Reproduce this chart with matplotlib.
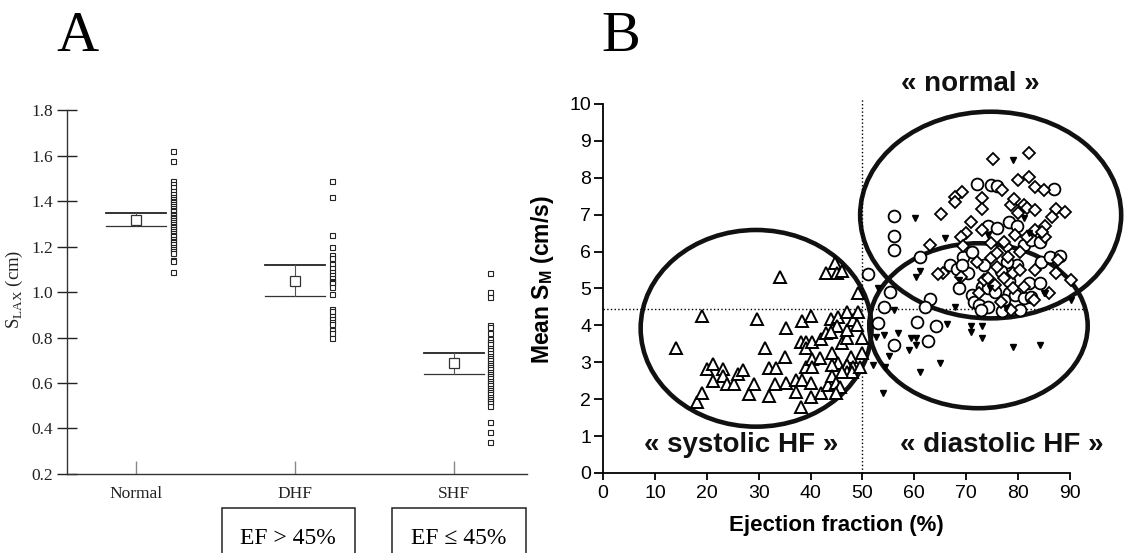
import matplotlib
matplotlib.use('Agg')
import matplotlib.pyplot as plt
from matplotlib.patches import Ellipse, Rectangle

plt.rcParams['mathtext.fontset'] = 'custom'
plt.rcParams['mathtext.rm'] = 'Liberation Serif'
plt.rcParams['mathtext.bf'] = 'Liberation Sans:bold'

SERIF = ['Liberation Serif', 'DejaVu Serif']
SANS = ['Liberation Sans', 'DejaVu Sans']

# ---- panel A data ----
groups = ['Normal', 'DHF', 'SHF']
group_mean = [1.316, 1.05, 0.686]
group_hi = [1.346, 1.119, 0.733]
group_lo = [1.29, 0.982, 0.638]

normal_vals = [1.62, 1.575, 1.49, 1.475, 1.46, 1.445, 1.43, 1.42, 1.41, 1.40, 1.395,
               1.385, 1.38, 1.37, 1.36, 1.355, 1.345, 1.34, 1.33, 1.325, 1.315, 1.31,
               1.30, 1.29, 1.285, 1.275, 1.27, 1.26, 1.25, 1.245, 1.235, 1.225, 1.22,
               1.21, 1.20, 1.19, 1.18, 1.17, 1.14, 1.135, 1.09]
dhf_vals = [1.49, 1.42, 1.25, 1.20, 1.165, 1.15, 1.125, 1.105, 1.09, 1.075, 1.06, 1.05,
            1.045, 1.04, 1.02, 0.99, 0.925, 0.915, 0.895, 0.88, 0.87, 0.86, 0.835,
            0.82, 0.80]
shf_vals = [1.085, 1.00, 0.98, 0.855, 0.845, 0.82, 0.795, 0.78, 0.77, 0.755, 0.745,
            0.73, 0.72, 0.71, 0.70, 0.69, 0.68, 0.67, 0.66, 0.65, 0.64, 0.63, 0.62,
            0.61, 0.60, 0.59, 0.58, 0.57, 0.56, 0.55, 0.54, 0.53, 0.52, 0.51, 0.50,
            0.43, 0.385, 0.34]
a_yticks = [0.2, 0.4, 0.6, 0.8, 1.0, 1.2, 1.4, 1.6, 1.8]
ef_boxes = ['EF > 45%', 'EF \u2264 45%']

# ---- panel B data ----
sys_x = [14.0, 19.1, 34.1, 29.7, 35.2, 31.2, 35.1, 18.2, 19.1, 20.1, 21.1, 21.1, 23.2,
         23.2, 23.9, 25.3, 26.0, 27.0, 28.1, 29.1, 32.0, 32.0, 33.3, 33.1, 35.2, 37.1,
         38.3, 37.1, 38.1, 38.1, 39.2, 38.3, 40.1, 39.2, 40.2, 39.2, 40.2, 40.2, 40.1,
         40.1, 42.1, 41.9, 42.1, 43.0, 43.0, 44.7, 45.0, 46.1, 44.0, 45.2, 45.0, 44.0,
         44.2, 45.2, 44.2, 43.3, 44.2, 44.9, 45.7, 44.9, 46.1, 47.1, 47.0, 47.1, 48.2,
         49.1, 49.1, 48.9, 47.8, 47.1, 48.2, 47.0, 48.0, 49.9, 49.9, 49.6, 46.1]
sys_y = [3.38, 4.25, 5.30, 4.16, 3.92, 3.38, 3.15, 1.91, 2.18, 2.81, 2.95, 2.48, 2.83,
         2.64, 2.41, 2.41, 2.68, 2.79, 2.13, 2.41, 2.09, 2.85, 2.84, 2.41, 2.43, 2.52,
         2.52, 2.20, 1.78, 3.56, 3.56, 4.12, 4.26, 3.38, 3.56, 2.88, 3.08, 2.88, 2.43,
         2.07, 3.62, 3.11, 2.16, 3.78, 5.43, 5.70, 5.41, 5.48, 4.16, 4.24, 3.97, 3.83,
         3.24, 2.97, 2.93, 2.38, 2.63, 2.43, 2.32, 2.16, 3.51, 3.65, 4.35, 3.88, 4.15,
         4.37, 4.87, 4.01, 3.15, 2.93, 2.88, 2.75, 2.75, 3.65, 3.24, 2.88, 2.75]

circ_x = [56.1, 56.1, 56.1, 51.1, 55.3, 54.1, 53.0, 56.1, 60.6, 64.1, 62.7, 63.1, 62.0,
          61.0, 66.9, 68.3, 69.3, 70.3, 69.2, 71.2, 72.1, 74.8, 75.9, 87.0, 74.2, 75.9,
          78.3, 79.8, 81.1, 82.5, 84.2, 84.4, 86.1, 88.0, 79.7, 77.9, 76.6, 73.5, 73.1,
          74.2, 75.5, 78.3, 78.2, 79.3, 81.1, 82.1, 84.2, 71.2, 71.4, 72.4, 74.2, 77.3,
          80.4, 76.9, 72.8, 68.6, 82.5]
circ_y = [6.96, 6.42, 6.04, 5.39, 4.90, 4.51, 4.06, 3.47, 4.10, 3.98, 3.59, 4.71, 4.51,
          5.86, 5.64, 5.52, 5.86, 5.43, 5.64, 6.00, 7.83, 7.81, 7.78, 7.70, 6.68, 6.63,
          6.81, 6.68, 6.18, 6.31, 6.27, 5.73, 5.86, 5.88, 5.64, 5.73, 5.46, 5.64, 5.05,
          5.00, 4.91, 5.19, 4.87, 4.82, 4.73, 5.14, 5.16, 4.82, 4.62, 4.55, 4.51, 4.69,
          4.42, 4.39, 4.42, 5.00, 4.78]

diam_x = [75.2, 82.1, 82.1, 80.0, 83.2, 84.9, 76.8, 73.1, 73.1, 69.2, 67.9, 67.9, 65.1,
          71.0, 78.7, 79.2, 80.0, 81.1, 81.8, 83.2, 87.2, 89.1, 86.6, 85.2, 83.2, 73.1,
          70.0, 68.9, 69.3, 63.1, 65.5, 64.5, 68.9, 72.1, 74.8, 77.9, 80.4, 74.8, 77.3,
          79.4, 81.8, 85.2, 84.6, 79.0, 80.4, 83.2, 75.9, 77.3, 79.1, 76.6, 81.1, 83.0,
          85.9, 87.7, 87.3, 90.1, 75.5, 73.5, 74.2, 78.7, 72.4, 76.0, 78.0]
diam_y = [8.50, 8.66, 8.03, 7.94, 7.74, 7.67, 7.67, 7.46, 7.15, 7.62, 7.49, 7.35, 7.01,
          6.81, 7.26, 7.42, 7.04, 7.26, 7.17, 7.13, 7.15, 7.08, 6.95, 6.68, 6.59, 6.59,
          6.50, 6.40, 6.15, 6.18, 5.41, 5.39, 5.32, 5.73, 5.82, 6.13, 6.00, 6.22, 6.27,
          6.45, 6.40, 6.40, 6.54, 5.41, 5.50, 5.50, 5.59, 5.28, 5.00, 4.64, 5.05, 4.69,
          4.87, 5.77, 5.41, 5.23, 5.10, 5.23, 5.28, 4.42, 4.87, 5.95, 5.85]

dtri_x = [79.1, 60.2, 65.9, 81.1, 60.3, 61.0, 53.0, 56.1, 52.7, 54.1, 56.8, 59.3, 60.3,
          60.3, 58.9, 55.1, 52.0, 54.4, 61.0, 65.0, 53.9, 66.2, 71.0, 71.0, 73.1, 73.1,
          79.0, 84.2, 84.9, 90.1, 67.9, 74.5, 82.1, 74.2, 85.2, 77.6, 68.6]
dtri_y = [8.48, 6.90, 6.36, 6.90, 5.32, 5.46, 5.00, 4.42, 3.69, 3.74, 3.78, 3.65, 3.65,
          3.47, 3.33, 3.17, 2.93, 2.88, 2.75, 2.99, 2.16, 4.03, 3.83, 3.97, 3.97, 3.65,
          3.42, 3.47, 4.87, 4.69, 4.51, 5.00, 6.50, 6.45, 4.87, 4.46, 5.23]

# ellipses: center x, center y, width, height
regions = [(29.5, 3.92, 44.5, 5.33), (74.7, 6.99, 50.3, 5.6), (72.35, 3.99, 42.1, 4.47)]
region_labels = ['\u00ab systolic HF \u00bb', '\u00ab normal \u00bb', '\u00ab diastolic HF \u00bb']
label_pos = [(26.7, 0.76), (70.7, 10.55), (76.9, 0.76)]
ef_cut = 50
sm_cut = 4.45

fig = plt.figure(figsize=(11.24, 5.53), dpi=100)

# ================= panel A =================
ax1 = fig.add_axes([0.0596, 0.1429, 0.4093, 0.658])
pos = [0, 1, 2]
for i, vals in enumerate([normal_vals, dhf_vals, shf_vals]):
    ax1.plot([pos[i] + 0.23] * len(vals), vals, 's', ms=3.6, mfc='white',
             mec='#222222', mew=0.8, clip_on=False)
for i in range(3):
    ax1.plot([pos[i] - 0.19, pos[i] + 0.19], [group_hi[i]] * 2, color='#222222', lw=1.3)
    ax1.plot([pos[i] - 0.19, pos[i] + 0.19], [group_lo[i]] * 2, color='#333333', lw=0.9)
    ax1.plot([pos[i]] * 2, [group_lo[i], group_hi[i]], color='#555555', lw=0.8)
    ax1.plot(pos[i], group_mean[i], 's', ms=6.5, mfc='white', mec='#333333', mew=0.9)

ax1.set_xlim(-0.434, 2.46)
ax1.set_ylim(0.2, 1.8)
ax1.set_yticks(a_yticks)
ax1.set_yticklabels(['%.1f' % v for v in a_yticks], family=SERIF, fontsize=12.5)
ax1.set_xticks(pos)
ax1.set_xticklabels(groups, family=SERIF, fontsize=12.5)
ax1.tick_params(axis='y', direction='inout', length=14, width=1, pad=3, colors='#222222')
ax1.tick_params(axis='x', direction='in', length=9.5, width=1, pad=9, color='#888888',
                labelcolor='#222222')
for s in ['top', 'right']:
    ax1.spines[s].set_visible(False)
for s in ['left', 'bottom']:
    ax1.spines[s].set_linewidth(1.0)
    ax1.spines[s].set_color('#333333')
fig.text(0.0125, 0.476, r'S$_{\mathrm{LAX}}$ (cm)', rotation=90, ha='center', va='center',
         family=SERIF, fontsize=13.5, color='#222222')

# EF boxes under DHF / SHF
fig.add_artist(Rectangle((0.1975, -0.05), 0.1183, 0.1314, transform=fig.transFigure,
                         fill=False, lw=1.1, ec='#222222'))
fig.add_artist(Rectangle((0.3488, -0.05), 0.1192, 0.1314, transform=fig.transFigure,
                         fill=False, lw=1.1, ec='#222222'))
fig.text(0.2562, 0.027, ef_boxes[0], ha='center', va='center', family=SERIF, fontsize=17)
fig.text(0.4084, 0.027, ef_boxes[1], ha='center', va='center', family=SERIF, fontsize=17)

# ================= panel B =================
ax2 = fig.add_axes([0.5365, 0.1447, 0.4155, 0.6673])
ax2.plot([ef_cut, ef_cut], [0, 10.15], ':', color='black', lw=1.0, clip_on=False)
ax2.plot([0, 93.2], [sm_cut, sm_cut], ':', color='black', lw=1.0, clip_on=False)

ax2.plot(sys_x, sys_y, '^', ms=8, mfc='white', mec='black', mew=1.4, clip_on=False)
ax2.plot(circ_x, circ_y, 'o', ms=8.5, mfc='white', mec='black', mew=1.3, clip_on=False)
ax2.plot(diam_x, diam_y, 'D', ms=6, mfc='white', mec='black', mew=1.3, clip_on=False)
ax2.plot(dtri_x, dtri_y, 'v', ms=5, color='black', clip_on=False)

for (cx, cy, w, h) in regions:
    ax2.add_patch(Ellipse((cx, cy), w, h, fill=False, lw=3.3, ec='#111111', clip_on=False))
for t, (tx, ty) in zip(region_labels, label_pos):
    ax2.text(tx, ty, t, ha='center', va='center', family=SANS, fontsize=20,
             fontweight='bold', color='#111111')

ax2.set_xlim(0, 90)
ax2.set_ylim(0, 10)
ax2.set_xticks(range(0, 91, 10))
ax2.set_yticks(range(0, 11))
ax2.set_xticklabels([str(v) for v in range(0, 91, 10)], family=SANS, fontsize=14)
ax2.set_yticklabels([str(v) for v in range(0, 11)], family=SANS, fontsize=14)
ax2.tick_params(axis='y', direction='out', length=6.5, width=1.3, pad=2)
ax2.tick_params(axis='x', direction='out', length=5, width=1.3, pad=4)
for s in ['top', 'right']:
    ax2.spines[s].set_visible(False)
for s in ['left', 'bottom']:
    ax2.spines[s].set_linewidth(1.3)
ax2.set_xlabel('Ejection fraction (%)', family=SANS, fontsize=16, fontweight='bold',
               labelpad=9)
fig.text(0.483, 0.494, r'Mean S$_{\mathbf{M}}$ (cm/s)', rotation=90, ha='center',
         va='center', family=SANS, fontsize=16.5, fontweight='bold')

# panel letters
fig.text(0.069, 0.933, 'A', ha='center', va='center', family=SERIF, fontsize=42)
fig.text(0.552, 0.933, 'B', ha='center', va='center', family=SERIF, fontsize=42)

fig.savefig('out.png', dpi=100)
